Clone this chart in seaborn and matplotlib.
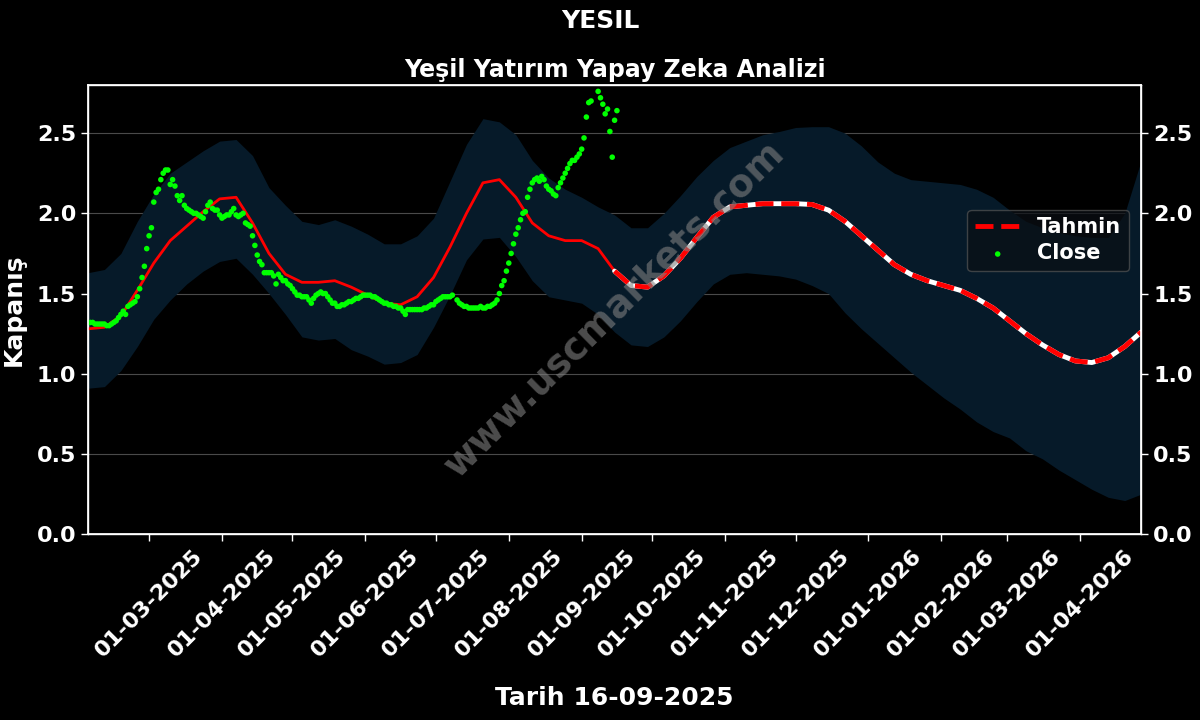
import numpy as np
import pandas as pd
import matplotlib
matplotlib.use("Agg")
import matplotlib.pyplot as plt
import matplotlib.dates as mdates
import seaborn as sns

# ---------------- data ----------------
close_start = "2025-02-03"
nan = np.nan
close_values = [
    1.32, 1.32, 1.32, 1.31, 1.31, 1.31, 1.31,
    1.31, 1.30, 1.30, 1.31, 1.32, 1.33, 1.35,
    1.37, 1.39, 1.37, 1.42, 1.43, 1.44, 1.45,
    1.48, 1.53, 1.60, 1.67, 1.78, 1.86, 1.91,
    2.07, 2.13, 2.15, 2.21, 2.25, 2.27, 2.27,
    2.18, 2.21, 2.17, 2.11, 2.08, 2.11, 2.05,
    2.03, 2.02, 2.01, 2.00, 2.00, 1.99, 1.98,
    1.97, 2.01, 2.05, 2.07, 2.03, 2.02, 2.02,
    1.99, 1.97, 1.98, 1.99, 1.99, 2.01, 2.03,
    1.99, 1.98, 1.99, 2.00, 1.94, 1.93, 1.92,
    1.86, 1.80, 1.74, 1.70, 1.68, 1.63, 1.63,
    1.63, 1.63, 1.61, 1.56, 1.62, 1.60, 1.58,
    1.58, 1.56, 1.55, 1.53, 1.51, 1.49, 1.49,
    1.48, 1.48, 1.48, 1.46, 1.44, 1.47, 1.49,
    1.50, 1.51, 1.50, 1.50, 1.48, 1.46, 1.44,
    1.44, 1.42, 1.42, 1.43, 1.43, 1.44, 1.45,
    1.45, 1.46, 1.47, 1.47, 1.48, 1.49, 1.49,
    1.49, 1.49, 1.48, 1.48, 1.47, 1.46, 1.45,
    1.44, 1.44, 1.43, 1.43, 1.42, 1.42, 1.41,
    1.41, 1.39, 1.37, 1.40, 1.40, 1.40, 1.40,
    1.40, 1.40, 1.40, 1.41, 1.41, 1.42, 1.43,
    1.43, 1.45, 1.46, 1.47, 1.48, 1.48, 1.48,
    1.48, 1.49, nan, 1.46, 1.44, 1.43, 1.42,
    1.42, 1.41, 1.41, 1.41, 1.41, 1.41, 1.42,
    1.41, 1.41, 1.42, 1.42, 1.43, 1.44, 1.46,
    1.50, 1.55, 1.58, 1.64, 1.69, 1.75, 1.81,
    1.87, 1.91, 1.96, 2.00, 2.01, 2.10, 2.15,
    2.19, 2.21, 2.22, 2.20, 2.23, 2.21, 2.17,
    2.15, 2.14, 2.12, 2.11, 2.16, 2.19, 2.22,
    2.25, 2.28, 2.31, 2.33, 2.33, 2.35, 2.37,
    2.40, 2.47, 2.60, 2.69, 2.70, nan, nan,
    2.76, 2.72, 2.68, 2.62, 2.65, 2.51, 2.35,
    2.58, 2.64,
]

model_start = "2025-02-03"   # weekly points
forecast_start = "2025-09-15"
pred_values = [
    1.28, 1.29, 1.36, 1.52, 1.69, 1.83, 1.92, 2.01, 2.09, 2.10,
    1.94, 1.75, 1.62, 1.57, 1.57, 1.58, 1.54, 1.49, 1.44, 1.43,
    1.48, 1.60, 1.79, 2.00, 2.19, 2.21, 2.10, 1.94, 1.86, 1.83,
    1.83, 1.78, 1.64, 1.55, 1.54, 1.61, 1.72, 1.85, 1.975, 2.04,
    2.05, 2.06, 2.06, 2.06, 2.055, 2.02, 1.95, 1.86, 1.77, 1.68,
    1.62, 1.58, 1.55, 1.52, 1.47, 1.41, 1.33, 1.25, 1.18, 1.12,
    1.08, 1.07, 1.10, 1.17, 1.26,
]
upper_values = [
    1.63, 1.65, 1.75, 1.95, 2.12, 2.25, 2.32, 2.39, 2.45, 2.46,
    2.36, 2.16, 2.05, 1.95, 1.93, 1.96, 1.92, 1.87, 1.81, 1.81,
    1.86, 1.97, 2.20, 2.43, 2.59, 2.57, 2.49, 2.33, 2.22, 2.15,
    2.10, 2.04, 1.99, 1.91, 1.91, 2.00, 2.11, 2.23, 2.33, 2.41,
    2.45, 2.49, 2.51, 2.535, 2.54, 2.54, 2.50, 2.42, 2.32, 2.25,
    2.21, 2.20, 2.19, 2.18, 2.15, 2.10, 2.02, 1.95, 1.91, 1.88,
    1.86, 1.85, 1.85, 2.00, 2.33,
]
lower_values = [
    0.91, 0.92, 1.02, 1.17, 1.34, 1.46, 1.56, 1.64, 1.70, 1.72,
    1.62, 1.50, 1.37, 1.23, 1.21, 1.22, 1.15, 1.11, 1.06, 1.07,
    1.12, 1.29, 1.49, 1.71, 1.84, 1.85, 1.73, 1.58, 1.48, 1.46,
    1.44, 1.37, 1.26, 1.18, 1.17, 1.23, 1.33, 1.45, 1.56, 1.62,
    1.63, 1.62, 1.61, 1.59, 1.55, 1.50, 1.38, 1.28, 1.19, 1.10,
    1.01, 0.93, 0.85, 0.78, 0.70, 0.64, 0.60, 0.52, 0.47, 0.40,
    0.34, 0.28, 0.23, 0.21, 0.25,
]

title_main = "YESIL"
title_sub = "Yeşil Yatırım Yapay Zeka Analizi"
ylabel = "Kapanış"
xlabel = "Tarih 16-09-2025"
watermark = "www.uscmarkets.com"

# ---------------- frames ----------------
close_df = pd.DataFrame({
    "date": pd.date_range(close_start, periods=len(close_values), freq="D"),
    "Close": close_values,
}).dropna()
model_df = pd.DataFrame({
    "date": pd.date_range(model_start, periods=len(pred_values), freq="7D"),
    "pred": pred_values, "upper": upper_values, "lower": lower_values,
})
fc = pd.Timestamp(forecast_start)
hist_df = model_df[model_df["date"] <= fc]
fut_df = model_df[model_df["date"] >= fc]

# ---------------- plot ----------------
sns.set_theme(style="dark")
plt.rcParams["font.family"] = ["DejaVu Sans"]
plt.rcParams["font.weight"] = "bold"

fig = plt.figure(figsize=(12, 7.2), dpi=100, facecolor="black")
ax = fig.add_axes([0.0733, 0.258, 0.8777, 0.624])
ax.set_facecolor("black")

ax.fill_between(model_df["date"], model_df["lower"], model_df["upper"],
                color="#061a29", linewidth=0, zorder=1)
ax.grid(axis="y", color="#4a4a4a", linewidth=0.8, zorder=1.5)
ax.grid(axis="x", visible=False)

sns.lineplot(data=hist_df, x="date", y="pred", ax=ax, color="red",
             linewidth=2, legend=False, zorder=3)
sns.lineplot(data=fut_df, x="date", y="pred", ax=ax, color="white",
             linewidth=3.5, legend=False, zorder=3)
sns.lineplot(data=fut_df, x="date", y="pred", ax=ax, color="red",
             linewidth=3.5, linestyle="--", label="Tahmin", zorder=4)
sns.scatterplot(data=close_df, x="date", y="Close", ax=ax, color="#00ff00",
                s=16, edgecolor="none", label="Close", zorder=5)

ax.set_ylim(0, 2.8)
ax.set_xlim(model_df["date"].iloc[0], model_df["date"].iloc[-1])
ax.set_yticks([0.0, 0.5, 1.0, 1.5, 2.0, 2.5])
ax.xaxis.set_major_locator(mdates.MonthLocator(bymonthday=1))
ax.xaxis.set_major_formatter(mdates.DateFormatter("%d-%m-%Y"))

ax.tick_params(axis="both", colors="white", labelsize=16, length=5, width=1,
               bottom=True, left=True)
for lab in ax.get_xticklabels():
    lab.set_rotation(45)
    lab.set_ha("center")
for lab in ax.get_xticklabels() + ax.get_yticklabels():
    lab.set_fontweight("bold")
for sp in ax.spines.values():
    sp.set_color("white")
    sp.set_linewidth(1)

ax.set_xlabel(xlabel, color="white", fontsize=18, fontweight="bold", labelpad=18)
ax.set_ylabel(ylabel, color="white", fontsize=18, fontweight="bold", labelpad=8)
ax.set_title(title_sub, color="white", fontsize=17, fontweight="bold", pad=6)
fig.suptitle(title_main, color="white", fontsize=18, fontweight="bold", y=0.987)

ax2 = ax.twinx()
ax2.set_ylim(ax.get_ylim())
ax2.set_yticks([0.0, 0.5, 1.0, 1.5, 2.0, 2.5])
ax2.tick_params(axis="y", colors="white", labelsize=16, length=5, width=1, right=True)
for lab in ax2.get_yticklabels():
    lab.set_fontweight("bold")
ax2.grid(False)
for sp in ax2.spines.values():
    sp.set_color("white")

leg = ax.legend(loc="upper right", bbox_to_anchor=(0.998, 0.745), fontsize=15,
                facecolor="#0a0f14", edgecolor="#555555", framealpha=0.7,
                labelcolor="white", handlelength=2.2, borderpad=0.35,
                labelspacing=0.3)
for t in leg.get_texts():
    t.set_fontweight("bold")

ax.text(0.5, 0.5, watermark, transform=ax.transAxes, fontsize=27,
        fontweight="bold", color="gray", alpha=0.6, rotation=44.6,
        ha="center", va="center", zorder=6)

fig.savefig("out.png", dpi=100, facecolor="black")
